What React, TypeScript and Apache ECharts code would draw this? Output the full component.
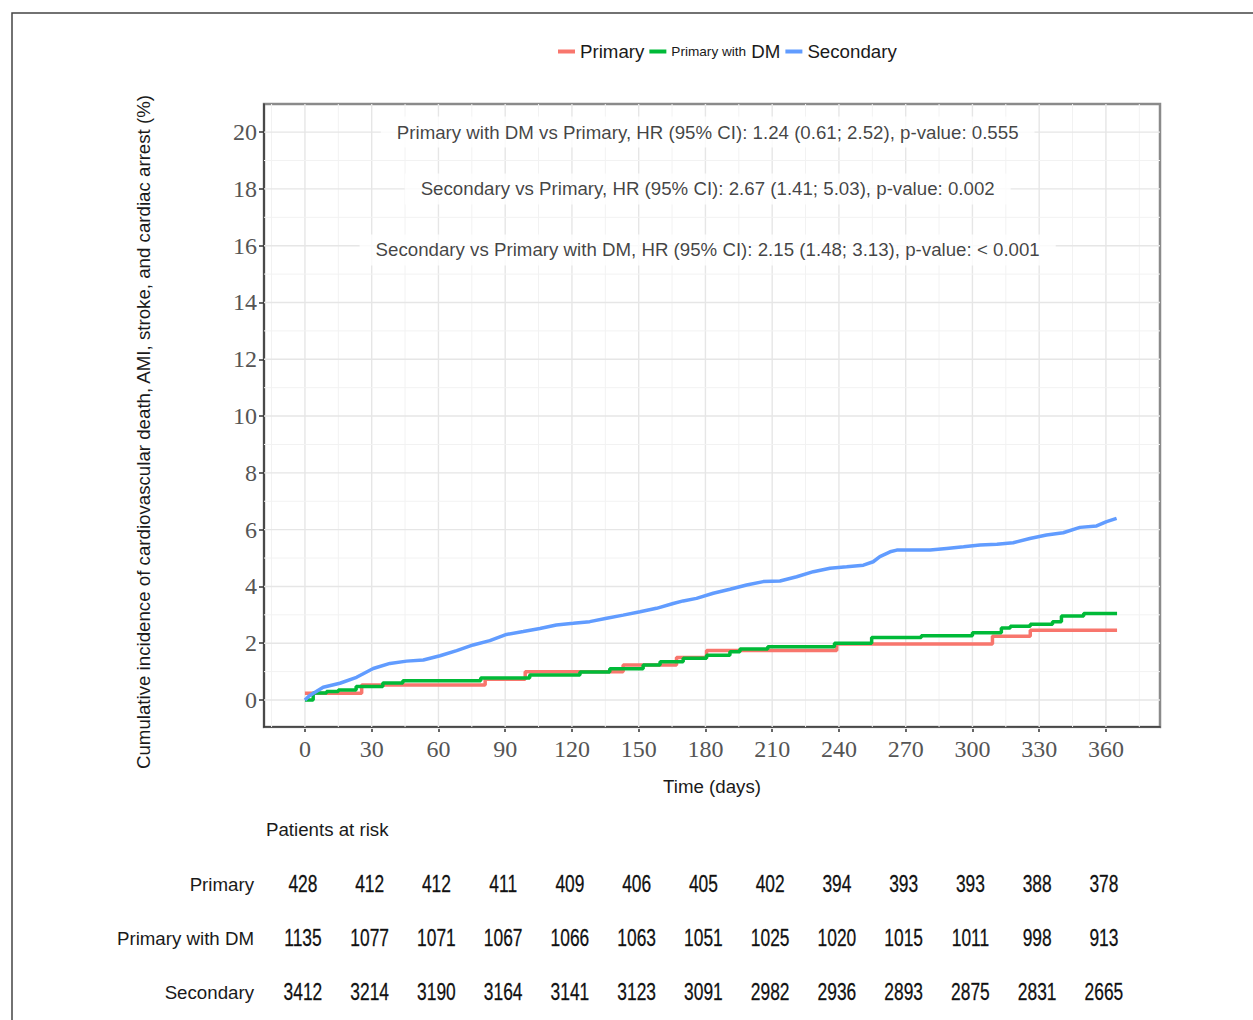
import React, { useEffect, useRef } from "react";
import * as echarts from "echarts";

const seriesNames = ["Primary", "Primary with DM", "Secondary"];
const colors = ["#F8766D", "#00BA38", "#619CFF"];

// [day, cumulative incidence %]
const primaryCurve = [
  [0, 0.24], [25.5, 0.53], [81, 0.73], [99, 1.0], [143, 1.23], [167, 1.5],
  [180.5, 1.74], [239, 1.97], [309, 2.25], [326, 2.46], [365, 2.46],
];
const primaryDMCurve = [
  [0, 0], [3.7, 0.25], [9.7, 0.3], [15, 0.35], [23, 0.48], [35, 0.6], [44, 0.68],
  [79, 0.78], [101, 0.88], [123.6, 0.99], [137, 1.1], [152, 1.23], [159.6, 1.35],
  [170, 1.47], [180.5, 1.58], [191, 1.7], [195.5, 1.8], [208, 1.88], [238, 2.0],
  [254.7, 2.2], [277, 2.26], [300, 2.37], [313, 2.54], [317, 2.6], [326, 2.67],
  [336, 2.76], [340, 2.96], [350, 3.05], [365, 3.05],
];
const secondaryCurve = [
  [0, 0], [2, 0.15], [8.2, 0.45], [15.7, 0.59], [23.2, 0.8], [30.7, 1.11], [38.2, 1.29],
  [45.7, 1.37], [53.2, 1.41], [60.7, 1.56], [68.2, 1.74], [75.6, 1.94], [83.1, 2.09],
  [90.6, 2.31], [98.1, 2.41], [105.6, 2.52], [113, 2.64], [120.6, 2.7], [128, 2.76],
  [135.6, 2.88], [143, 2.99], [150.6, 3.11], [158, 3.23], [165.5, 3.4], [170, 3.49],
  [176, 3.58], [183.5, 3.76], [191, 3.9], [198.5, 4.05], [206, 4.17], [213.5, 4.19],
  [221, 4.34], [228.5, 4.52], [236, 4.64], [243.5, 4.69], [251, 4.75], [255.4, 4.87],
  [258.4, 5.05], [263, 5.22], [266, 5.28], [281, 5.28], [288.4, 5.34], [296, 5.4],
  [303.4, 5.46], [311, 5.49], [318.3, 5.54], [325.8, 5.69], [333.3, 5.81], [340.8, 5.89],
  [348.3, 6.08], [355.8, 6.13], [360.3, 6.28], [364.8, 6.4],
];

const xTicks = [0, 30, 60, 90, 120, 150, 180, 210, 240, 270, 300, 330, 360];
const xMinorGrid = [-15, 15, 45, 75, 105, 135, 165, 195, 225, 255, 285, 315, 345, 375];
const yTicks = [0, 2, 4, 6, 8, 10, 12, 14, 16, 18, 20];
const yMinorGrid = [-1, 1, 3, 5, 7, 9, 11, 13, 15, 17, 19];

const annotations = [
  "Primary with DM vs Primary, HR (95% CI): 1.24 (0.61; 2.52), p-value: 0.555",
  "Secondary vs Primary, HR (95% CI): 2.67 (1.41; 5.03), p-value: 0.002",
  "Secondary vs Primary with DM, HR (95% CI): 2.15 (1.48; 3.13), p-value: < 0.001",
];
const annotationY = [20, 18, 15.85];
const annotationX = 181;

const riskDays = xTicks;
const riskPrimary = [428, 412, 412, 411, 409, 406, 405, 402, 394, 393, 393, 388, 378];
const riskPrimaryDM = [1135, 1077, 1071, 1067, 1066, 1063, 1051, 1025, 1020, 1015, 1011, 998, 913];
const riskSecondary = [3412, 3214, 3190, 3164, 3141, 3123, 3091, 2982, 2936, 2893, 2875, 2831, 2665];

const yTitle =
  "Cumulative incidence of cardiovascular death, AMI, stroke, and cardiac arrest (%)";

const SANS = '"Liberation Sans", Arial, sans-serif';
const SERIF = '"Liberation Serif", "Times New Roman", serif';
const FS = 18.7;

export default function App() {
  const ref = useRef<HTMLDivElement>(null);
  useEffect(() => {
    if (!ref.current) return;
    const chart = echarts.init(ref.current, null, { renderer: "svg" });

    const gridData: any[] = [];
    xTicks.forEach((v) => gridData.push([v, 0]));
    xMinorGrid.forEach((v) => gridData.push([v, 1]));
    yTicks.forEach((v) => gridData.push([v, 2]));
    yMinorGrid.forEach((v) => gridData.push([v, 3]));

    const riskRows = [riskPrimary, riskPrimaryDM, riskSecondary];
    const riskData: any[] = [];
    riskRows.forEach((row, i) =>
      row.forEach((v, j) => riskData.push([riskDays[j], i, v]))
    );

    const option: any = {
      animation: false,
      backgroundColor: "#ffffff",
      legend: {
        data: seriesNames,
        top: 37,
        left: 553,
        icon: "rect",
        itemWidth: 17,
        itemHeight: 4,
        itemGap: 5,
        textStyle: {
          fontFamily: SANS,
          fontSize: FS,
          color: "#1a1a1a",
          rich: {
            s: { fontFamily: SANS, fontSize: 13.6, color: "#1a1a1a" },
            b: { fontFamily: SANS, fontSize: FS, color: "#1a1a1a" },
          },
        },
        formatter: (name: string) =>
          name === "Primary with DM" ? "{s|Primary with} {b|DM}" : "{b|" + name + "}",
      },
      grid: [
        {
          left: 264,
          right: 93,
          top: 104,
          bottom: 293,
          show: true,
          borderColor: "#8a8a8a",
          borderWidth: 2.5,
          backgroundColor: "#ffffff",
        },
        { left: 264, right: 93, top: 857, height: 162 },
      ],
      xAxis: [
        {
          type: "value",
          gridIndex: 0,
          min: -18.4,
          max: 384.3,
          name: "Time (days)",
          nameLocation: "middle",
          nameGap: 50,
          nameTextStyle: { fontFamily: SANS, fontSize: FS, color: "#1a1a1a" },
          axisLine: { show: true, onZero: false, lineStyle: { color: "#333", width: 1.5 } },
          axisTick: { show: true, length: 5, customValues: xTicks, lineStyle: { color: "#333", width: 1.5 } },
          axisLabel: {
            customValues: xTicks,
            fontFamily: SERIF,
            fontSize: 24,
            color: "#555",
            margin: 10,
          },
          splitLine: { show: false },
        },
        { type: "value", gridIndex: 1, min: -18.4, max: 384.3, show: false },
      ],
      yAxis: [
        {
          type: "value",
          gridIndex: 0,
          min: -0.95,
          max: 20.99,
          axisLine: { show: true, onZero: false, lineStyle: { color: "#333", width: 1.5 } },
          axisTick: { show: true, length: 5, customValues: yTicks, lineStyle: { color: "#333", width: 1.5 } },
          axisLabel: {
            customValues: yTicks,
            fontFamily: SERIF,
            fontSize: 24,
            color: "#555",
            margin: 7,
          },
          splitLine: { show: false },
        },
        {
          type: "category",
          gridIndex: 1,
          data: seriesNames,
          inverse: true,
          axisLine: { show: false },
          axisTick: { show: false },
          axisLabel: { fontFamily: SANS, fontSize: FS, color: "#1a1a1a", margin: 10 },
        },
      ],
      graphic: [
        {
          type: "rect",
          shape: { x: 12, y: 13, width: 1400, height: 1200 },
          style: { fill: "none", stroke: "#444", lineWidth: 1.5 },
          silent: true,
        },
        {
          type: "text",
          x: 143,
          y: 432,
          rotation: Math.PI / 2,
          style: {
            text: yTitle,
            align: "center",
            verticalAlign: "middle",
            font: `${FS}px ${SANS}`,
            fill: "#1a1a1a",
          },
        },
        {
          type: "text",
          x: 266,
          y: 829,
          style: {
            text: "Patients at risk",
            align: "left",
            verticalAlign: "middle",
            font: `${FS}px ${SANS}`,
            fill: "#1a1a1a",
          },
        },
      ],
      series: [
        {
          type: "custom",
          name: "gridlines",
          xAxisIndex: 0,
          yAxisIndex: 0,
          z: 1,
          silent: true,
          clip: false,
          data: gridData,
          renderItem: (params: any, api: any) => {
            const cs = params.coordSys;
            const v = api.value(0);
            const kind = api.value(1);
            if (kind === 0 || kind === 1) {
              const px = api.coord([v, 0])[0];
              return {
                type: "line",
                shape: { x1: px, y1: cs.y, x2: px, y2: cs.y + cs.height },
                style: { stroke: kind === 0 ? "#e6e6e6" : "#f2f2f2", lineWidth: kind === 0 ? 1.4 : 1 },
              };
            }
            const py = api.coord([0, v])[1];
            return {
              type: "line",
              shape: { x1: cs.x, y1: py, x2: cs.x + cs.width, y2: py },
              style: { stroke: kind === 2 ? "#e6e6e6" : "#f2f2f2", lineWidth: kind === 2 ? 1.4 : 1 },
            };
          },
        },
        {
          name: "Primary",
          type: "line",
          step: "end",
          data: primaryCurve,
          showSymbol: false,
          symbol: "none",
          z: 5,
          color: colors[0],
          lineStyle: { color: colors[0], width: 3.5 },
        },
        {
          name: "Primary with DM",
          type: "line",
          step: "end",
          data: primaryDMCurve,
          showSymbol: false,
          symbol: "none",
          z: 6,
          color: colors[1],
          lineStyle: { color: colors[1], width: 3.5 },
        },
        {
          name: "Secondary",
          type: "line",
          data: secondaryCurve,
          showSymbol: false,
          symbol: "none",
          z: 7,
          color: colors[2],
          lineStyle: { color: colors[2], width: 3.5 },
        },
        {
          type: "scatter",
          name: "annotations",
          xAxisIndex: 0,
          yAxisIndex: 0,
          z: 8,
          silent: true,
          symbolSize: 1,
          itemStyle: { color: "rgba(0,0,0,0)" },
          data: annotationY.map((y, i) => [annotationX, y, annotations[i]]),
          label: {
            show: true,
            position: "inside",
            formatter: (p: any) => p.data[2],
            fontFamily: SANS,
            fontSize: FS,
            color: "#111",
            backgroundColor: "#ffffff",
            padding: [6, 16],
          },
        },
        {
          type: "custom",
          name: "risk",
          xAxisIndex: 1,
          yAxisIndex: 1,
          silent: true,
          clip: false,
          data: riskData,
          renderItem: (params: any, api: any) => {
            const p = api.coord([api.value(0), api.value(1)]);
            return {
              type: "text",
              x: p[0] - 2,
              y: p[1],
              scaleX: 0.71,
              style: {
                text: String(api.value(2)),
                align: "center",
                verticalAlign: "middle",
                font: `24.5px ${SANS}`,
                fill: "#111",
                stroke: "#333",
                lineWidth: 0.3,
              },
            };
          },
        },
      ],
    };
    chart.setOption(option);
    return () => chart.dispose();
  }, []);
  return (
    <div
      ref={ref}
      style={{ position: "fixed", left: 0, top: 0, width: 1253, height: 1020 }}
    />
  );
}
